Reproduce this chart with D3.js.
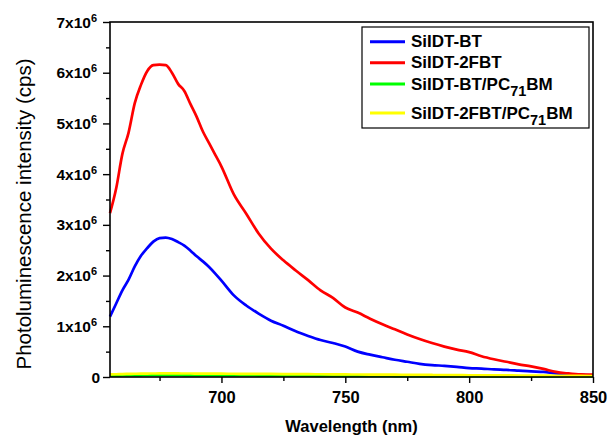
<!DOCTYPE html>
<html>
<head>
<meta charset="utf-8">
<script src="https://cdn.jsdelivr.net/npm/d3@7"></script>
<style>
  body { margin: 0; background: #fff; }
  svg { display: block; font-family: "Liberation Sans", Arial, sans-serif; }
</style>
</head>
<body>
<svg id="chart" width="608" height="435"></svg>
<script>
// wavelength (nm), intensities in units of 10^6 cps
const wavelengths = [655, 657.5, 660, 662.5, 665, 667.5, 670, 672.5, 675, 677.5,
  680, 682.5, 685, 687.5, 690, 692.5, 695, 697.5, 700,
  705, 710, 715, 720, 725, 730, 735, 740, 745, 750,
  755, 760, 765, 770, 775, 780, 785, 790, 795, 800,
  805, 810, 815, 820, 825, 830, 835, 840, 845, 850];

const silBT = [1.19, 1.45, 1.71, 1.92, 2.18, 2.39, 2.54, 2.67, 2.74, 2.75,
  2.72, 2.66, 2.59, 2.49, 2.38, 2.28, 2.17, 2.04, 1.90,
  1.61, 1.41, 1.25, 1.11, 1.01, 0.90, 0.81, 0.73, 0.67, 0.60,
  0.50, 0.44, 0.39, 0.34, 0.30, 0.26, 0.235, 0.22, 0.20, 0.175,
  0.165, 0.15, 0.14, 0.125, 0.11, 0.10, 0.07, 0.055, 0.04, 0.03];

const sil2FBT = [3.23, 3.72, 4.40, 4.82, 5.40, 5.76, 6.03, 6.15, 6.16, 6.15,
  6.00, 5.78, 5.64, 5.38, 5.13, 4.84, 4.61, 4.38, 4.15,
  3.60, 3.22, 2.83, 2.53, 2.30, 2.10, 1.91, 1.71, 1.56, 1.37,
  1.27, 1.15, 1.04, 0.94, 0.84, 0.75, 0.67, 0.60, 0.54, 0.49,
  0.41, 0.35, 0.30, 0.25, 0.21, 0.16, 0.10, 0.07, 0.05, 0.045];

const silBTPC = [0.025, 0.028, 0.03, 0.032, 0.033, 0.034, 0.035, 0.035, 0.035, 0.035,
  0.035, 0.035, 0.034, 0.034, 0.033, 0.033, 0.032, 0.032, 0.031,
  0.03, 0.03, 0.029, 0.028, 0.027, 0.026, 0.025, 0.024, 0.023, 0.022,
  0.021, 0.02, 0.02, 0.019, 0.018, 0.018, 0.017, 0.016, 0.016, 0.015,
  0.015, 0.014, 0.014, 0.013, 0.013, 0.012, 0.012, 0.011, 0.011, 0.01];

const sil2FBTPC = [0.05, 0.054, 0.058, 0.061, 0.064, 0.066, 0.068, 0.069, 0.07, 0.07,
  0.07, 0.07, 0.069, 0.069, 0.068, 0.067, 0.066, 0.066, 0.065,
  0.064, 0.062, 0.061, 0.06, 0.058, 0.057, 0.055, 0.054, 0.052, 0.05,
  0.049, 0.047, 0.046, 0.045, 0.043, 0.042, 0.04, 0.039, 0.037, 0.035,
  0.034, 0.033, 0.031, 0.03, 0.028, 0.027, 0.025, 0.024, 0.022, 0.02];

const xTicks = [700, 750, 800, 850];
const xMinor = [675, 725, 775, 825];
const yTicks = [0, 1, 2, 3, 4, 5, 6, 7];
const yMinor = [0.5, 1.5, 2.5, 3.5, 4.5, 5.5, 6.5];

const seriesNames = ["SiIDT-BT", "SiIDT-2FBT", "SiIDT-BT/PC", "SiIDT-2FBT/PC"];
const seriesColors = ["#0000ff", "#ff0000", "#00ff00", "#ffff00"];
const seriesValues = [silBT, sil2FBT, silBTPC, sil2FBTPC];

const svg = d3.select("#chart");

const x = d3.scaleLinear().domain([655, 850]).range([110, 593]);
const y = d3.scaleLinear().domain([0, 7]).range([377, 22]);

const line = d3.line()
  .curve(d3.curveMonotoneX)
  .x(d => x(d[0]))
  .y(d => y(d[1]));

// yellow ends up on top of green, like the picture
seriesValues.forEach((vals, i) => {
  svg.append("path")
    .datum(wavelengths.map((w, j) => [w, vals[j]]))
    .attr("fill", "none")
    .attr("stroke", seriesColors[i])
    .attr("stroke-width", 2.7)
    .attr("stroke-linejoin", "round")
    .attr("d", line);
});

// frame
svg.append("rect")
  .attr("x", x.range()[0])
  .attr("y", y.range()[1])
  .attr("width", x.range()[1] - x.range()[0])
  .attr("height", y.range()[0] - y.range()[1])
  .attr("fill", "none")
  .attr("stroke", "#000")
  .attr("stroke-width", 1.6);

// x axis
const xAxis = svg.append("g")
  .attr("transform", `translate(0,${y(0)})`)
  .call(d3.axisBottom(x).tickValues(xTicks).tickSize(6).tickFormat(d3.format("d")));
svg.append("g")
  .attr("transform", `translate(0,${y(0)})`)
  .call(d3.axisBottom(x).tickValues(xMinor).tickSize(4).tickFormat(""))
  .call(g => g.select(".domain").remove());
xAxis.select(".domain").remove();
xAxis.selectAll("text")
  .attr("font-size", 16.5)
  .attr("font-weight", "bold")
  .attr("font-family", "Liberation Sans, Arial, sans-serif")
  .attr("fill", "#000")
  .attr("y", 10)
  .attr("dy", "0.95em");

// y axis
const yAxis = svg.append("g")
  .attr("transform", `translate(${x(655)},0)`)
  .call(d3.axisLeft(y).tickValues(yTicks).tickSize(7).tickFormat(""));
yAxis.select(".domain").remove();
svg.append("g")
  .attr("transform", `translate(${x(655)},0)`)
  .call(d3.axisLeft(y).tickValues(yMinor).tickSize(4).tickFormat(""))
  .call(g => g.select(".domain").remove());

svg.selectAll(".tick line").attr("stroke-width", 1.4);

const yLabels = svg.append("g")
  .attr("font-size", 15.5)
  .attr("font-weight", "bold")
  .attr("text-anchor", "end");

yTicks.forEach(v => {
  const t = yLabels.append("text")
    .attr("x", v === 0 ? 100 : 97)
    .attr("y", y(v) + 5.5);
  if (v === 0) {
    t.text("0");
  } else {
    t.append("tspan").text(v + "x10");
    t.append("tspan").attr("font-size", 11).attr("dy", -6).text("6");
  }
});

// axis titles
svg.append("text")
  .attr("x", (x.range()[0] + x.range()[1]) / 2)
  .attr("y", 432)
  .attr("text-anchor", "middle")
  .attr("font-size", 16.5)
  .attr("font-weight", "bold")
  .text("Wavelength (nm)");

svg.append("text")
  .attr("transform", "translate(31,214) rotate(-90)")
  .attr("text-anchor", "middle")
  .attr("font-size", 20.5)
  .text("Photoluminescence intensity (cps)");

// legend
const legend = svg.append("g");
legend.append("rect")
  .attr("x", 362).attr("y", 27)
  .attr("width", 227).attr("height", 101)
  .attr("fill", "#fff")
  .attr("stroke", "#000")
  .attr("stroke-width", 1.2);

const legendY = [41.7, 62.7, 84, 113];
seriesNames.forEach((name, i) => {
  legend.append("line")
    .attr("x1", 370).attr("x2", 405)
    .attr("y1", legendY[i]).attr("y2", legendY[i])
    .attr("stroke", seriesColors[i])
    .attr("stroke-width", 3);
  const t = legend.append("text")
    .attr("x", 411)
    .attr("y", legendY[i] + 5.5)
    .attr("font-size", 17)
    .attr("font-weight", "bold")
    .attr("fill", "#000");
  t.append("tspan").text(name);
  if (i >= 2) {
    t.append("tspan").attr("font-size", 14.5).attr("dy", 6).text("71");
    t.append("tspan").attr("dy", -6).text("BM");
  }
});
</script>
</body>
</html>
